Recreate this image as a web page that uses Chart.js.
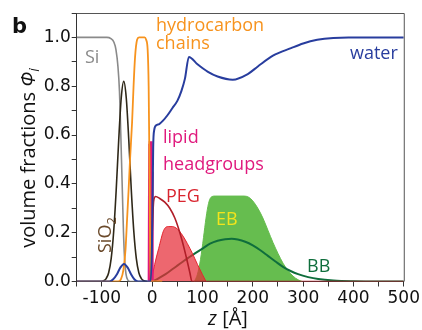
<!DOCTYPE html>
<html>
<head>
<meta charset="utf-8">
<script src="https://cdn.jsdelivr.net/npm/chart.js"></script>
<style>
  html, body { margin: 0; padding: 0; background: #fff; }
  #wrap { width: 422px; height: 330px; }
</style>
</head>
<body>
<div id="wrap"><canvas id="myChart" width="422" height="330"></canvas></div>
<script>
// z [Å] 위치와 부피 분율 값
const zSi = [-150, -90, -82, -76, -72, -68, -65, -63, -61, -59, -57, -55, -52, -48, -44, 0];
const phiSi = [1, 1, 0.995, 0.98, 0.95, 0.88, 0.78, 0.65, 0.5, 0.35, 0.2, 0.1, 0.03, 0.005, 0, 0];

const zSiO2 = [-150, -100, -96.5, -91.5, -86.5, -81.5, -76.5, -71.5, -66.5, -61.5, -56.5, -51.5, -46.5, -41.5, -36.5, -31.5, -26.5, -21.5, -16.5, -10];
const phiSiO2 = [0, 0, 0.003, 0.012, 0.036, 0.094, 0.205, 0.375, 0.58, 0.752, 0.82, 0.752, 0.58, 0.375, 0.205, 0.094, 0.036, 0.012, 0.003, 0];

const zChains = [-150, -68, -62, -57, -53, -50, -47, -44, -40, -37, -34, -30, -26, -15, -12, -9, -7, -6, -5, -4, -3, 20];
const phiChains = [0, 0, 0.01, 0.05, 0.13, 0.25, 0.37, 0.5, 0.65, 0.8, 0.92, 0.99, 1.0, 1.0, 0.99, 0.95, 0.8, 0.6, 0.35, 0.12, 0, 0];

const zWater = [-150, -85, -78, -70, -63, -56, -49, -42, -35, -28, -3, 0, 2, 4, 8, 14, 22, 30, 40, 50, 58, 65, 73, 90, 110, 130, 160, 190, 210, 240, 276, 300, 328, 360, 390, 500];
const phiWater = [0, 0, 0.008, 0.03, 0.058, 0.072, 0.058, 0.03, 0.008, 0, 0, 0.2, 0.55, 0.62, 0.64, 0.645, 0.66, 0.68, 0.71, 0.74, 0.78, 0.83, 0.92, 0.89, 0.86, 0.84, 0.827, 0.85, 0.881, 0.925, 0.956, 0.975, 0.99, 0.998, 1.0, 1.0];

const zHead = [-7, -6, -5, -1, 0, 1];
const phiHead = [0, 0.56, 0.57, 0.57, 0.45, 0];

const zPEG = [-3, 0, 3, 7, 15, 25, 35, 45, 55, 63, 70, 75, 79, 500];
const phiPEG = [0, 0.2, 0.33, 0.348, 0.34, 0.325, 0.3, 0.26, 0.2, 0.14, 0.08, 0.035, 0, 0];

const zPEGfill = [-2, 5, 13, 23, 32, 40, 50, 60, 70, 80, 90, 100, 107];
const phiPEGfill = [0, 0.07, 0.136, 0.21, 0.225, 0.225, 0.215, 0.19, 0.155, 0.115, 0.07, 0.028, 0];

const zEB = [84, 90, 96, 102, 107, 112, 117, 125, 183, 192, 200, 210, 220, 230, 240, 250, 260, 270, 280, 290, 298];
const phiEB = [0, 0.03, 0.09, 0.18, 0.26, 0.32, 0.345, 0.35, 0.35, 0.345, 0.33, 0.3, 0.26, 0.21, 0.16, 0.115, 0.075, 0.045, 0.022, 0.007, 0];

const zBB = [0, 10, 20, 30, 40, 50, 60, 70, 85, 100, 115, 130, 145, 158, 170, 185, 200, 215, 230, 245, 260, 275, 290, 310, 330, 360, 400, 450, 500];
const phiBB = [0, 0.01, 0.022, 0.035, 0.05, 0.065, 0.08, 0.095, 0.115, 0.135, 0.155, 0.167, 0.173, 0.175, 0.172, 0.163, 0.148, 0.128, 0.105, 0.082, 0.06, 0.043, 0.03, 0.018, 0.01, 0.004, 0.001, 0, 0];

const xTicks = [-100, 0, 100, 200, 300, 400, 500];
const yTicks = [0, 0.2, 0.4, 0.6, 0.8, 1.0];

function pts(zs, vs) {
    return zs.map((z, i) => ({ x: z, y: vs[i] }));
}

function line(data, color, width, order) {
    return {
        data: data, borderColor: color, borderWidth: width, fill: false,
        pointRadius: 0, cubicInterpolationMode: "monotone", order: order
    };
}

// 그림 위의 글자들 (축 제목, 곡선 이름)
const labelPlugin = {
    id: "labels",
    afterDraw(chart) {
        const ctx = chart.ctx;
        const a = chart.chartArea;
        ctx.save();
        // 위, 오른쪽 테두리
        ctx.strokeStyle = "#555";
        ctx.lineWidth = 1;
        ctx.beginPath();
        ctx.moveTo(a.left, a.top + 0.5);
        ctx.lineTo(a.right + 0.5, a.top + 0.5);
        ctx.lineTo(a.right + 0.5, a.bottom);
        ctx.stroke();

        const f = "18px 'Open Sans'";
        ctx.textBaseline = "alphabetic";
        ctx.textAlign = "left";
        ctx.font = "bold 21px 'DejaVu Sans'";
        ctx.fillStyle = "#111";
        ctx.fillText("b", 12, 33);

        ctx.font = f;
        ctx.fillStyle = "#8a8a8a";
        ctx.fillText("Si", 85, 63);
        ctx.fillStyle = "#f7931e";
        ctx.fillText("hydrocarbon", 156, 31);
        ctx.fillText("chains", 156, 49);
        ctx.fillStyle = "#283d9e";
        ctx.fillText("water", 350, 59);
        ctx.fillStyle = "#e0197d";
        ctx.fillText("lipid", 163, 143);
        ctx.fillText("headgroups", 163, 170);
        ctx.fillStyle = "#d9252f";
        ctx.fillText("PEG", 166, 202);
        ctx.fillStyle = "#f2e41c";
        ctx.fillText("EB", 216, 225);
        ctx.fillStyle = "#0f6e3c";
        ctx.fillText("BB", 307, 272);

        // SiO2 (세로)
        ctx.save();
        ctx.translate(111, 253);
        ctx.rotate(-Math.PI / 2);
        ctx.fillStyle = "#6b4a2b";
        ctx.font = f;
        ctx.fillText("SiO", 0, 0);
        const w = ctx.measureText("SiO").width;
        ctx.font = "13px 'Open Sans'";
        ctx.fillText("2", w, 5);
        ctx.restore();

        // y축 제목
        ctx.save();
        ctx.translate(35, 158);
        ctx.rotate(-Math.PI / 2);
        ctx.fillStyle = "#111";
        const t1 = "volume fractions ";
        ctx.font = "20px 'Open Sans'";
        const w1 = ctx.measureText(t1).width;
        ctx.font = "italic 20px 'Open Sans'";
        const w2 = ctx.measureText("\u03A6").width;
        ctx.font = "italic 14px 'Open Sans'";
        const w3 = ctx.measureText("i").width;
        let x0 = -(w1 + w2 + w3) / 2;
        ctx.font = "20px 'Open Sans'";
        ctx.fillText(t1, x0, 0);
        ctx.font = "italic 20px 'Open Sans'";
        ctx.fillText("\u03A6", x0 + w1, 0);
        ctx.font = "italic 14px 'Open Sans'";
        ctx.fillText("i", x0 + w1 + w2, 4);
        ctx.restore();

        // x축 제목
        ctx.fillStyle = "#111";
        ctx.font = "italic 20px 'Open Sans'";
        const wz = ctx.measureText("z").width;
        ctx.font = "20px 'Open Sans'";
        const wr = ctx.measureText(" [\u00C5]").width;
        const xs = 228 - (wz + wr) / 2;
        ctx.font = "italic 20px 'Open Sans'";
        ctx.fillText("z", xs, 325);
        ctx.font = "20px 'Open Sans'";
        ctx.fillText(" [\u00C5]", xs + wz, 325);
        ctx.restore();
    }
};

function initChart() {
    const ctx = document.getElementById("myChart").getContext("2d");
    new Chart(ctx, {
        type: "line",
        data: {
            datasets: [
                {
                    data: pts(zEB, phiEB), borderColor: "#66bd4f", borderWidth: 1,
                    backgroundColor: "#66bd4f", fill: "origin", pointRadius: 0,
                    cubicInterpolationMode: "monotone", order: 10
                },
                line(pts(zBB, phiBB), "#0f6e3c", 2, 9),
                {
                    data: pts(zPEGfill, phiPEGfill), borderColor: "#e3262f", borderWidth: 1,
                    backgroundColor: "rgba(230, 45, 55, 0.72)", fill: "origin", pointRadius: 0,
                    cubicInterpolationMode: "monotone", order: 8
                },
                {
                    data: pts(zHead, phiHead), borderColor: "#e0197d", borderWidth: 2,
                    backgroundColor: "rgba(228, 30, 70, 0.9)", fill: "origin", pointRadius: 0,
                    tension: 0, order: 7
                },
                line(pts(zPEG, phiPEG), "#b01e28", 1.6, 6),
                line(pts(zSi, phiSi), "#8a8a8a", 1.6, 5),
                line(pts(zSiO2, phiSiO2), "#2f2818", 1.6, 4),
                line(pts(zChains, phiChains), "#f7931e", 1.8, 3),
                line(pts(zWater, phiWater), "#283d9e", 2, 2)
            ]
        },
        options: {
            responsive: false,
            animation: false,
            devicePixelRatio: 1,
            layout: { padding: { top: 13, right: 13, left: 0, bottom: 0 } },
            plugins: { legend: { display: false }, tooltip: { enabled: false } },
            scales: {
                x: {
                    type: "linear", min: -150, max: 500,
                    afterFit: (s) => { s.height = 48.5; },
                    ticks: {
                        stepSize: 50, autoSkip: false, maxRotation: 0, padding: 2,
                        color: "#111", font: { family: "'DejaVu Sans'", size: 17 },
                        callback: (v) => (xTicks.includes(v) ? String(v) : "")
                    },
                    grid: { drawOnChartArea: false, tickLength: 5, color: "#333" },
                    border: { color: "#333" }
                },
                y: {
                    min: 0, max: 1.1,
                    afterFit: (s) => { s.width = 76.7; },
                    ticks: {
                        stepSize: 0.1, autoSkip: false, padding: 1,
                        color: "#111", font: { family: "'DejaVu Sans'", size: 17 },
                        callback: (v) => {
                            const r = Math.round(v * 10) / 10;
                            return yTicks.some((t) => Math.abs(t - r) < 1e-6) ? r.toFixed(1) : "";
                        }
                    },
                    grid: { drawOnChartArea: false, tickLength: 5, color: "#333" },
                    border: { color: "#333" }
                }
            }
        },
        plugins: [labelPlugin]
    });
}

window.onload = function () {
    initChart();
};
</script>
</body>
</html>
